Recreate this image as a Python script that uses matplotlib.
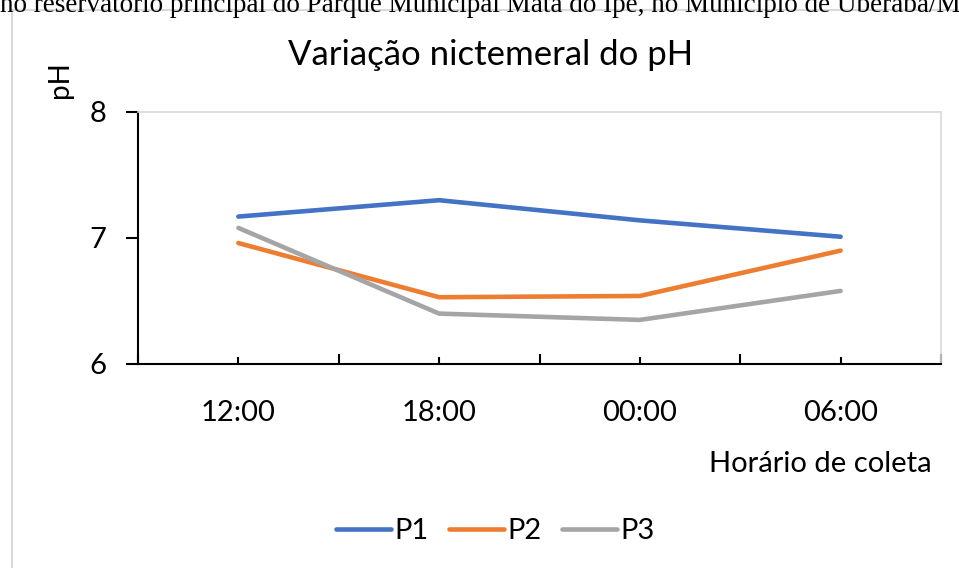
import matplotlib.pyplot as plt
from matplotlib.patches import Rectangle

# data
horarios = ["12:00", "18:00", "00:00", "06:00"]
p1 = [7.17, 7.30, 7.14, 7.01]
p2 = [6.96, 6.53, 6.54, 6.90]
p3 = [7.08, 6.40, 6.35, 6.58]
series = {"P1": p1, "P2": p2, "P3": p3}
colors = {"P1": "#4472C4", "P2": "#ED7D31", "P3": "#A5A5A5"}

W, H = 959, 568
plt.rcParams["font.family"] = ["Lato", "DejaVu Sans"]

fig = plt.figure(figsize=(W / 100, H / 100), dpi=100)

# clipped caption line from the document above the chart (cut at the top, as in the source)
fig.text(0, 1 - 12 / H, "no reservatório principal do Parque Municipal Mata do Ipê, no Município de Uberaba/MG",
         family=["Liberation Serif"], fontsize=19.5, va="baseline", ha="left")

# chart area border
fig.patches.append(Rectangle((12 / W, -0.05), 1.2, 1 - 10 / H + 0.05, transform=fig.transFigure,
                             fill=False, edgecolor="#D9D9D9", lw=1.5))

ax = fig.add_axes([138 / W, (H - 364) / H, 803 / W, 252 / H])
x = list(range(len(horarios)))
for name, vals in series.items():
    ax.plot(x, vals, color=colors[name], lw=3.3, solid_capstyle="round", label=name)

ax.set_xlim(-0.5, len(horarios) - 0.5)
ax.set_ylim(6, 8)
ax.set_yticks([6, 7, 8])
ax.set_xticks(x)
ax.set_xticklabels(horarios)
ax.set_xticks([i + 0.5 for i in range(-1, len(horarios))], minor=True)
ax.tick_params(axis="x", which="major", direction="in", length=5, width=1.5, pad=26, labelsize=21)
ax.tick_params(axis="x", which="minor", direction="in", length=7, width=1.5)
ax.tick_params(axis="y", direction="out", length=9, width=1.5, pad=14, labelsize=21)

for s in ["left", "bottom"]:
    ax.spines[s].set_linewidth(1.5)
    ax.spines[s].set_color("black")
for s in ["top", "right"]:
    ax.spines[s].set_color("#D9D9D9")
    ax.spines[s].set_linewidth(1.2)

fig.text(491 / W, 1 - 55 / H, "Variação nictemeral do pH", fontsize=25, ha="center", va="center")
fig.text(60 / W, 1 - 80 / H, "pH", fontsize=20, rotation=90, ha="center", va="center")
fig.text(820 / W, 1 - 464 / H, "Horário de coleta", fontsize=21, ha="center", va="center")

fig.legend(loc="center", bbox_to_anchor=(495 / W, 1 - 531 / H), ncol=3, frameon=False,
           fontsize=21, handlelength=1.9, handletextpad=0.1, columnspacing=0.7)

fig.savefig("out.png", dpi=100)
